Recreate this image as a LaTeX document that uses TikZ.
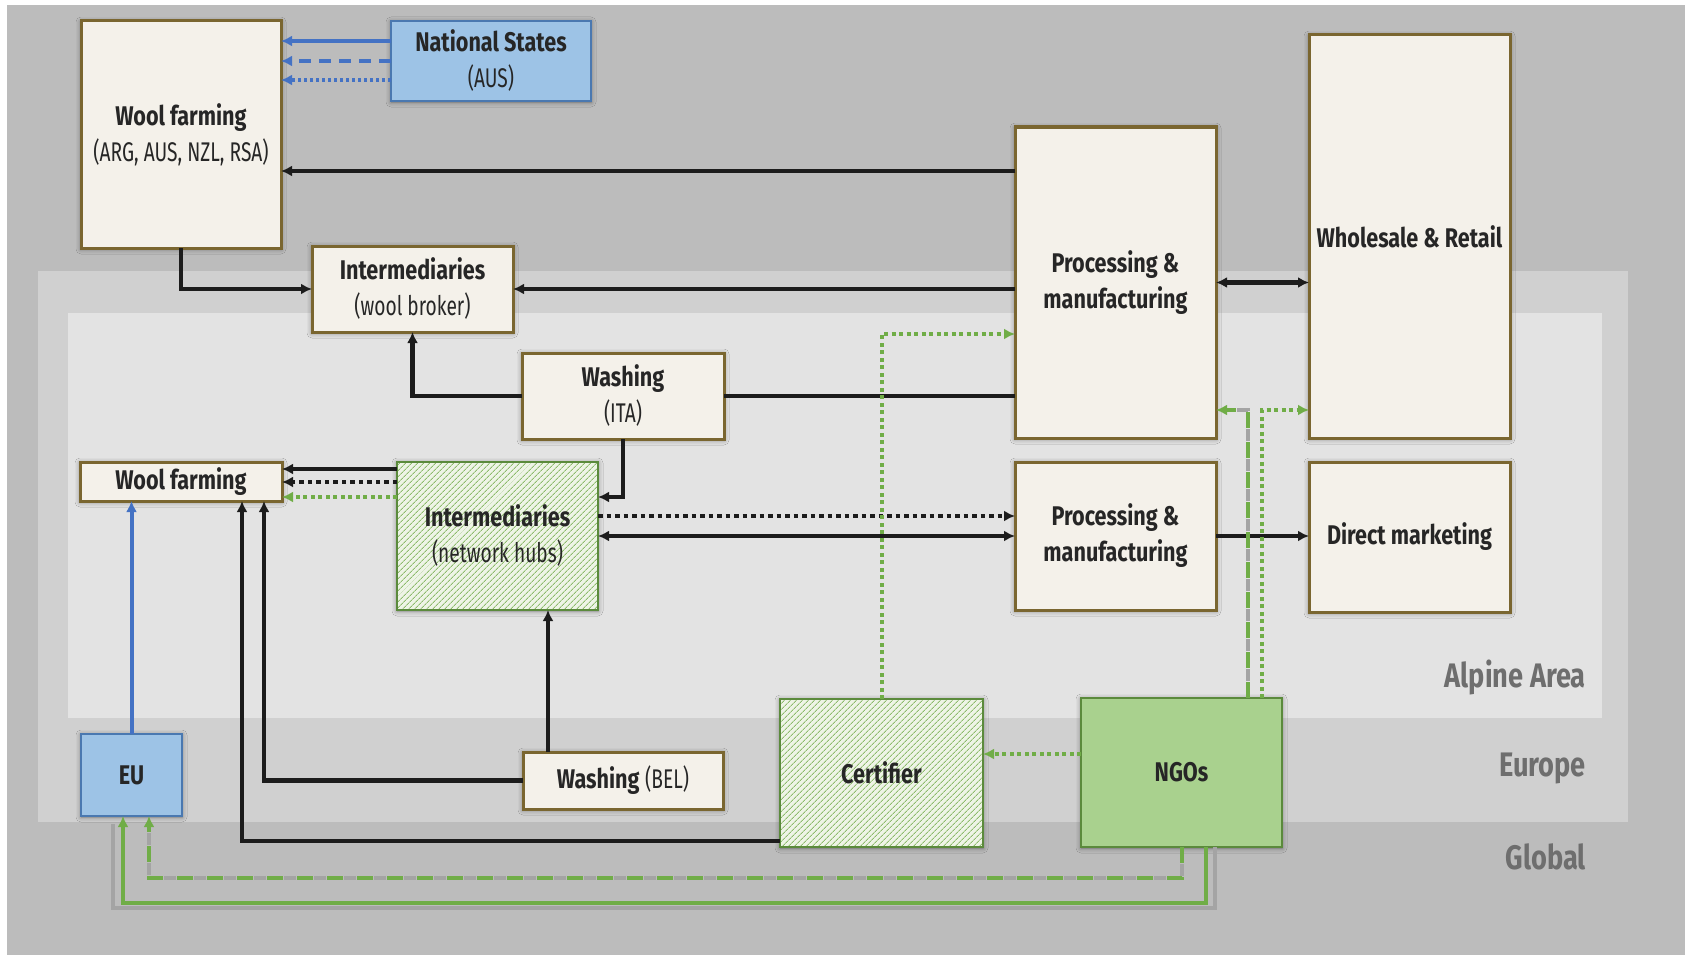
\documentclass[tikz,border=0pt]{standalone}
\usepackage{fontspec}
\setmainfont{Fira Sans}[FakeStretch=0.8]
\newfontfamily\nar{Fira Sans}[FakeStretch=0.71]
\usetikzlibrary{arrows.meta,patterns.meta,shadows.blur}
\definecolor{outerbg}{HTML}{BCBCBC}
\definecolor{eurobg}{HTML}{D0D0D0}
\definecolor{alpbg}{HTML}{E3E3E3}
\definecolor{cream}{HTML}{F4F1EA}
\definecolor{olive}{HTML}{7A6630}
\definecolor{bluefill}{HTML}{9DC3E6}
\definecolor{blueline}{HTML}{4472C4}
\definecolor{blueedge}{HTML}{4A78B0}
\definecolor{greenline}{HTML}{70AD47}
\definecolor{ngofill}{HTML}{A9D18E}
\definecolor{greenedge}{HTML}{5B8A3C}
\definecolor{hatchbg}{HTML}{EEF4E6}
\definecolor{hatchln}{HTML}{8DBB6C}
\definecolor{txt}{HTML}{262626}
\definecolor{zonetxt}{HTML}{6E6E6E}
\definecolor{blk}{HTML}{1C1C1C}
\definecolor{shade}{HTML}{A4A4A4}
\tikzset{
  box/.style={draw, line width=3pt, inner sep=2pt, outer sep=0pt, align=center, text=txt,
    font=\fontsize{27}{36}\selectfont,
    blur shadow={shadow xshift=0pt, shadow yshift=-1pt, shadow blur radius=5pt, shadow opacity=45}},
  cbox/.style={box, fill=cream, draw=olive},
  bbox/.style={box, fill=bluefill, draw=blueedge, line width=2.5pt},
  hbox/.style={box, draw=greenedge, line width=2.5pt, preaction={fill=hatchbg},
    pattern={Lines[angle=45,distance=4pt,line width=1pt]}, pattern color=hatchln},
  gbox/.style={box, fill=ngofill, draw=greenedge, line width=2.5pt},
  zone/.style={text=zonetxt, font=\fontsize{34}{38}\selectfont\bfseries, anchor=east, inner sep=0pt},
  fwd/.style={-{Latex[length=11pt,width=11pt]}},
  both/.style={{Latex[length=11pt,width=11pt]}-{Latex[length=11pt,width=11pt]}},
  blkln/.style={draw=blk, line width=4.5pt},
  blkdot/.style={blkln, dash pattern=on 4.5pt off 4pt},
  bluln/.style={draw=blueline, line width=4pt},
  grnln/.style={draw=greenline, line width=4pt},
  grndot/.style={draw=greenline, line width=4pt, dash pattern=on 4pt off 3.5pt},
  grndash/.style={draw=greenline, line width=4pt, dash pattern=on 16pt off 14pt},
  shadedash/.style={draw=shade, line width=4pt, dash pattern=on 12pt off 18pt, dash phase=13pt, shorten >=11pt},
  shadeln/.style={draw=shade, line width=4pt},
}
\begin{document}
\begin{tikzpicture}[x=1pt,y=-1pt]
\useasboundingbox (0,0) rectangle (1685,955);
% background zones
\fill[white] (0,0) rectangle (1685,955);
\fill[outerbg] (7,5) rectangle (1685,955);
\fill[eurobg] (37.6,271) rectangle (1628,822);
\fill[alpbg] (68,313) rectangle (1602,718);
\node[zone] (lalp) at (1586,677) {Alpine Area};
\node[zone] (leur) at (1586,768) {Europe};
\node[zone] (lglo) at (1586,857) {Global};

% nodes
\node[cbox, minimum width=200pt, minimum height=227pt] (wfA) at (181,134.5) {\textbf{Wool farming}\\{\nar (ARG, AUS, NZL, RSA)}};
\node[bbox, minimum width=200pt, minimum height=80pt] (nat) at (491,61) {\textbf{National States}\\{\nar (AUS)}};
\node[cbox, minimum width=201pt, minimum height=86pt] (brk) at (412.5,289) {\textbf{Intermediaries}\\{\nar (wool broker)}};
\node[cbox, minimum width=201pt, minimum height=311pt] (procA) at (1115.5,282.5) {\textbf{Processing \&}\\\textbf{manufacturing}};
\node[cbox, minimum width=201pt, minimum height=403pt] (whs) at (1409.5,236.5) {\textbf{Wholesale \& Retail}};
\node[cbox, minimum width=202pt, minimum height=86pt] (wash) at (623,396) {\textbf{Washing}\\{\nar (ITA)}};
\node[hbox, minimum width=201pt, minimum height=148pt] (hub) at (497.5,536) {\textbf{Intermediaries}\\{\nar (network hubs)}};
\node[cbox, minimum width=202pt, minimum height=39pt] (wfB) at (181,481.5) {\textbf{Wool farming}};
\node[cbox, minimum width=201pt, minimum height=148pt] (procB) at (1115.5,536) {\textbf{Processing \&}\\\textbf{manufacturing}};
\node[cbox, minimum width=201pt, minimum height=150pt] (dm) at (1409.5,537) {\textbf{Direct marketing}};
\node[bbox, minimum width=101pt, minimum height=82pt] (eu) at (131.5,775) {\textbf{EU}};
\node[cbox, minimum width=200pt, minimum height=57pt] (wbel) at (623,780.5) {\textbf{Washing} {\nar (BEL)}};
\node[hbox, minimum width=203pt, minimum height=148pt] (cert) at (881.5,773) {\textbf{Certifier}};
\node[gbox, minimum width=201pt, minimum height=149pt] (ngo) at (1181.5,772.5) {\textbf{NGOs}};

% National States -> Wool farming
\draw[bluln, fwd] (nat.west |- 0,41) -- (wfA.east |- 0,41);
\draw[bluln, fwd, dash pattern=on 12pt off 8pt] (nat.west |- 0,61) -- (wfA.east |- 0,61);
\draw[bluln, fwd, dash pattern=on 3.5pt off 2.5pt] (nat.west |- 0,80) -- (wfA.east |- 0,80);
% global chain
\draw[blkln, fwd] (wfA.south) |- (brk.west);
\draw[blkln, fwd] (procA.west |- 0,171) -- (wfA.east |- 0,171);
\draw[blkln, fwd] (procA.west |- brk.east) -- (brk.east);
\draw[blkln, both] (procA.east) -- (whs.west |- procA.east);
\draw[blkln] (wash.east) -- (procA.west |- wash.east);
\draw[blkln, fwd] (wash.west) -| (brk.south);
\draw[blkln, fwd] (wash.south) |- (hub.east |- 0,497);
% hubs -> wool farming
\draw[blkln, fwd] (hub.west |- 0,469) -- (wfB.east |- 0,469);
\draw[blkdot, fwd] (hub.west |- 0,482) -- (wfB.east |- 0,482);
\draw[grndot, fwd] (hub.west |- 0,497) -- (wfB.east |- 0,497);
% hubs -> processing
\draw[blkdot, fwd] (hub.east |- 0,516) -- (procB.west |- 0,516);
\draw[blkln, both] (hub.east |- procB.west) -- (procB.west);
\draw[blkln, fwd] (procB.east) -- (dm.west |- procB.east);
% EU, washing BEL, certifier
\draw[bluln, fwd] (eu.north) -- (eu.north |- wfB.south);
\draw[blkln, fwd] (548,0 |- wbel.north) -- (548,0 |- hub.south);
\draw[blkln, fwd] (wbel.west) -| (264,0 |- wfB.south);
\draw[blkln, fwd] (cert.west |- 0,841) -| (242,0 |- wfB.south);
\draw[grndot, fwd] (cert.north) |- (procA.west |- 0,334);
\draw[grndot, fwd] (ngo.west |- 0,754) -- (cert.east |- 0,754);
% NGOs up
\draw[shadedash] (1248,0 |- ngo.north) |- (procA.east |- 0,410);
\draw[grndash, fwd] (1248,0 |- ngo.north) |- (procA.east |- 0,410);
\draw[grndot, fwd] (1262,0 |- ngo.north) |- (whs.west |- 0,410);
% NGOs -> EU
\draw[shadeln] (1215,0 |- ngo.south) |- (113,908) -- (113,824);
\draw[grnln, fwd] (1206,0 |- ngo.south) |- (123,903) -- (123,0 |- eu.south);
\draw[shadedash] (1182,0 |- ngo.south) |- (149,878) -- (149,0 |- eu.south);
\draw[grndash, fwd] (1182,0 |- ngo.south) |- (149,878) -- (149,0 |- eu.south);
\end{tikzpicture}
\end{document}
